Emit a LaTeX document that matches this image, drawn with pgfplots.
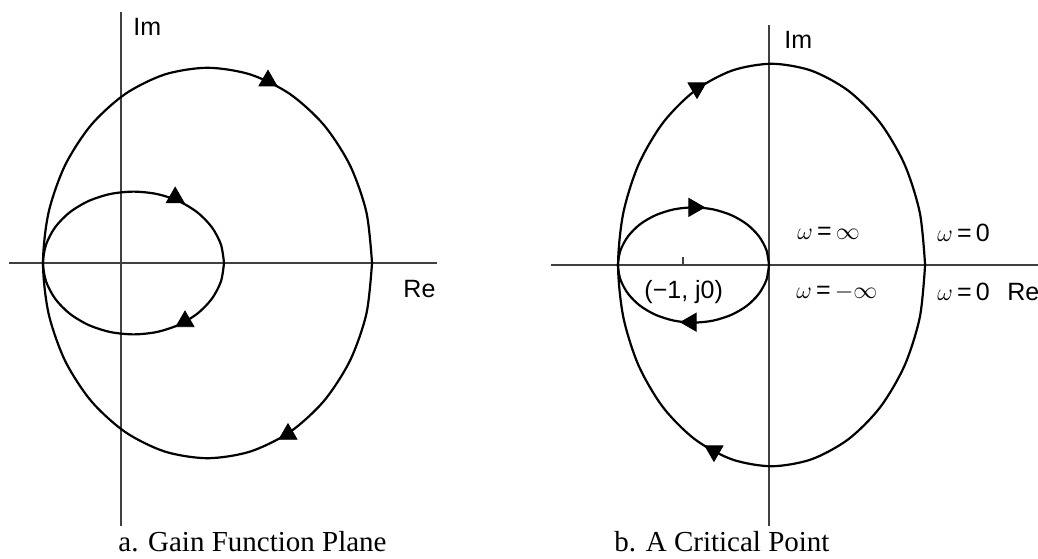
\documentclass[border=0pt]{standalone}
\usepackage{pgfplots}
\pgfplotsset{compat=1.18}
\usepackage{fontspec}
\setmainfont{Liberation Sans}
\newfontfamily\capfont{Liberation Serif}

% one data unit = 43pt in both panels
\pgfplotsset{
  nyq/.style={
    axis lines=middle,
    axis line style={-, line width=0.6pt, black!75},
    x=43pt, y=43pt,
    anchor=origin,
    xtick=\empty, ytick=\empty,
    clip=false,
    label style={font=\fontsize{12.5}{15}\selectfont, inner sep=0pt, anchor=west},
  },
  curve/.style={black, line width=1.1pt, smooth, mark=none},
  arr/.style={only marks, mark=triangle*, mark size=5.2pt, mark options={fill=black, draw=black}},
}
\tikzset{
  lbl/.style={font=\fontsize{12.5}{15}\selectfont, inner sep=0pt, anchor=west},
  captxt/.style={font=\capfont\fontsize{14.5}{17}\selectfont, inner sep=0pt, anchor=base},
}

\begin{document}
\begin{tikzpicture}
\path[use as bounding box] (0,0) rectangle (519pt,279pt);

% ---- a. Gain Function Plane
\begin{axis}[nyq,
    at={(60.5pt,147.5pt)},
    xmin=-1.30, xmax=3.67, ymin=-3.06, ymax=2.92,
    xlabel={Re}, ylabel={Im},
    xlabel style={at={(axis cs:3.28,-0.30)}},
    ylabel style={at={(axis cs:0.14,2.74)}, rotate=0},
  ]
  \addplot[curve] coordinates {
    (2.919,0) (2.854,0.588) (2.663,1.135) (2.359,1.605) (1.963,1.966)
    (1.501,2.193) (1.006,2.270) (0.511,2.193) (0.050,1.966) (-0.347,1.605)
    (-0.651,1.135) (-0.842,0.588) (-0.907,0) (-0.842,-0.588) (-0.651,-1.135)
    (-0.347,-1.605) (0.050,-1.966) (0.511,-2.193) (1.006,-2.270) (1.501,-2.193)
    (1.963,-1.966) (2.359,-1.605) (2.663,-1.135) (2.854,-0.588) (2.919,0)
  };
  \addplot[curve] coordinates {
    (1.198,0) (1.162,0.215) (1.057,0.415) (0.890,0.587) (0.672,0.719)
    (0.418,0.802) (0.146,0.830) (-0.127,0.802) (-0.381,0.719) (-0.599,0.587)
    (-0.766,0.415) (-0.871,0.215) (-0.907,0) (-0.871,-0.215) (-0.766,-0.415)
    (-0.599,-0.587) (-0.381,-0.719) (-0.127,-0.802) (0.146,-0.830) (0.418,-0.802)
    (0.672,-0.719) (0.890,-0.587) (1.057,-0.415) (1.162,-0.215) (1.198,0)
  };
  \addplot[arr] coordinates {(1.709,2.12) (1.942,-1.99) (0.63,0.76) (0.744,-0.68)};
  \node[captxt] at (axis cs:1.529,-3.349) {a. Gain Function Plane};
\end{axis}

% ---- b. A Critical Point
\begin{axis}[nyq,
    at={(384.5pt,146.5pt)},
    xmin=-2.535, xmax=3.13, ymin=-3.035, ymax=2.79,
    xlabel={Re}, ylabel={Im},
    xlabel style={at={(axis cs:2.767,-0.314)}},
    ylabel style={at={(axis cs:0.174,2.616)}, rotate=0},
  ]
  \addplot[curve] coordinates {
    (1.815,0) (1.754,0.606) (1.576,1.170) (1.292,1.655) (0.923,2.026)
    (0.492,2.260) (0.030,2.340) (-0.432,2.260) (-0.863,2.026) (-1.232,1.655)
    (-1.516,1.170) (-1.694,0.606) (-1.755,0) (-1.694,-0.606) (-1.516,-1.170)
    (-1.232,-1.655) (-0.863,-2.026) (-0.432,-2.260) (0.030,-2.340) (0.492,-2.260)
    (0.923,-2.026) (1.292,-1.655) (1.576,-1.170) (1.754,-0.606) (1.815,0)
  };
  \addplot[curve] coordinates {
    (0,0) (-0.030,0.173) (-0.118,0.335) (-0.257,0.474) (-0.439,0.580)
    (-0.651,0.647) (-0.878,0.670) (-1.105,0.647) (-1.317,0.580) (-1.499,0.474)
    (-1.638,0.335) (-1.726,0.173) (-1.756,0) (-1.726,-0.173) (-1.638,-0.335)
    (-1.499,-0.474) (-1.317,-0.580) (-1.105,-0.647) (-0.878,-0.670) (-0.651,-0.647)
    (-0.439,-0.580) (-0.257,-0.474) (-0.118,-0.335) (-0.030,-0.173) (0,0)
  };
  % tick at the critical point
  \addplot[black!75, line width=0.6pt] coordinates {(-1,0) (-1,0.09)};
  \addplot[arr, mark options={rotate=180}] coordinates {(-0.837,2.058) (-0.640,-2.163)};
  \addplot[arr, mark options={rotate=-90}] coordinates {(-0.872,0.67)};
  \addplot[arr, mark options={rotate=90}] coordinates {(-0.907,-0.665)};
  \node[lbl] at (axis cs:0.326,0.372) {$\omega$\,=\,$\infty$};
  \node[lbl] at (axis cs:1.953,0.372) {$\omega$\,=\,0};
  \node[lbl] at (axis cs:-1.453,-0.314) {(−1, j0)};
  \node[lbl] at (axis cs:0.314,-0.314) {$\omega$\,=\,$-\infty$};
  \node[lbl] at (axis cs:1.953,-0.314) {$\omega$\,=\,0};
  \node[captxt] at (axis cs:-0.547,-3.326) {b. A Critical Point};
\end{axis}
\end{tikzpicture}
\end{document}
